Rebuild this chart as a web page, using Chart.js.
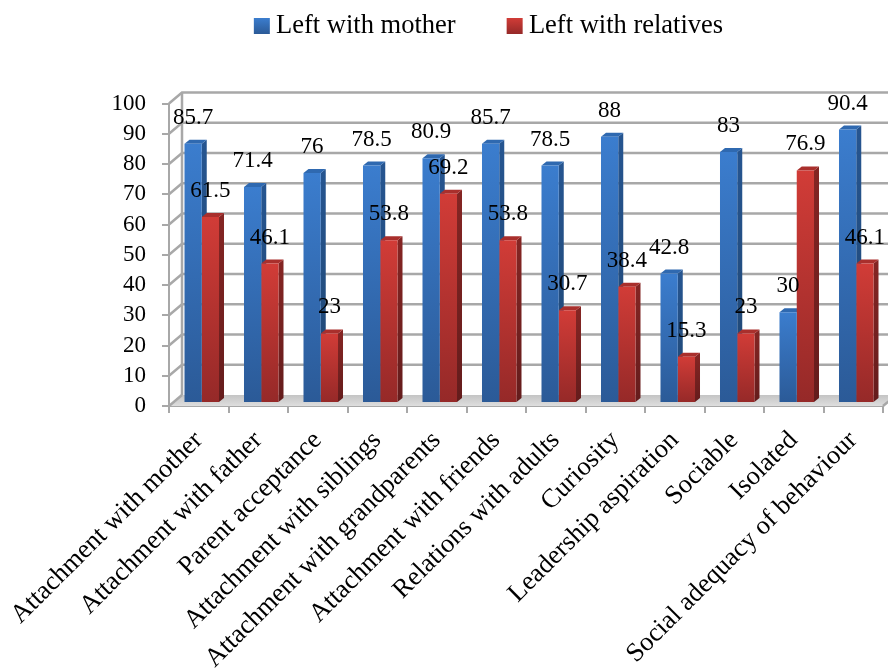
<!DOCTYPE html>
<html>
<head>
<meta charset="utf-8">
<style>
  html, body { margin: 0; padding: 0; background: #fff; }
  canvas { display: block; }
</style>
<script src="https://cdn.jsdelivr.net/npm/chart.js@4"></script>
</head>
<body>
<canvas id="chart" width="888" height="669"></canvas>
<script>
const categories = ['Attachment with mother', 'Attachment with father', 'Parent acceptance', 'Attachment with siblings',
  'Attachment with grandparents', 'Attachment with friends', 'Relations with adults', 'Curiosity',
  'Leadership aspiration', 'Sociable', 'Isolated', 'Social adequacy of behaviour'];
const leftWithMother = [85.7, 71.4, 76, 78.5, 80.9, 85.7, 78.5, 88, 42.8, 83, 30, 90.4];
const leftWithRelatives = [61.5, 46.1, 23, 53.8, 69.2, 53.8, 30.7, 38.4, 15.3, 23, 76.9, 46.1];

const FONT_FAMILY = '"Liberation Serif", serif';
const GRID_COLOR = '#a8a8a8';
const WALL_X = 13, WALL_Y = -11;   // back wall offset
const BAR_X = 3, BAR_Y = -3;       // bars stand a bit behind the front axis
const DEPTH_X = 5, DEPTH_Y = -4;   // bar depth
const LEGEND_SHIFT = 50;

const ctx = document.getElementById('chart').getContext('2d');

const barGradient = (top, bottom, yTop, yBottom) => {
  const g = ctx.createLinearGradient(0, yTop, 0, yBottom);
  g.addColorStop(0, top);
  g.addColorStop(1, bottom);
  return g;
};

const fillFor = (light, dark) => (context) => {
  const scale = context.chart.scales.y;
  if (!scale || !context.parsed) return light;
  return barGradient(light, dark, scale.getPixelForValue(context.parsed.y), scale.getPixelForValue(0));
};

const drawBarFaces = (chart, index) => {
  const c = chart.ctx;
  const ds = chart.data.datasets[index];
  chart.getDatasetMeta(index).data.forEach((bar) => {
    const right = bar.x + bar.width / 2;
    const left = bar.x - bar.width / 2;
    c.fillStyle = barGradient(ds.sideLight, ds.sideDark, bar.y, bar.base);
    c.beginPath();
    c.moveTo(right, bar.y);
    c.lineTo(right + DEPTH_X, bar.y + DEPTH_Y);
    c.lineTo(right + DEPTH_X, bar.base + DEPTH_Y);
    c.lineTo(right, bar.base);
    c.closePath();
    c.fill();
    c.fillStyle = ds.topColor;
    c.beginPath();
    c.moveTo(left, bar.y);
    c.lineTo(left + DEPTH_X, bar.y + DEPTH_Y);
    c.lineTo(right + DEPTH_X, bar.y + DEPTH_Y);
    c.lineTo(right, bar.y);
    c.closePath();
    c.fill();
  });
};

// back wall, left wall, floor, bar depth and value labels
const wallsPlugin = {
  id: 'walls',
  beforeDatasetsDraw(chart) {
    const { ctx: c, scales: { x, y } } = chart;
    const zero = y.getPixelForValue(0);
    c.save();
    const floor = c.createLinearGradient(0, zero + WALL_Y, 0, zero);
    floor.addColorStop(0, '#c4c4c4');
    floor.addColorStop(1, '#dedede');
    c.fillStyle = floor;
    c.beginPath();
    c.moveTo(x.left, zero);
    c.lineTo(x.left + WALL_X, zero + WALL_Y);
    c.lineTo(x.right + WALL_X, zero + WALL_Y);
    c.lineTo(x.right, zero);
    c.closePath();
    c.fill();
    c.strokeStyle = GRID_COLOR;
    c.lineWidth = 2.5;
    y.ticks.forEach((t) => {
      const py = y.getPixelForValue(t.value);
      c.beginPath();
      c.moveTo(x.left, py);
      c.lineTo(x.left + WALL_X, py + WALL_Y);
      if (t.value > 0) c.lineTo(x.right + WALL_X, py + WALL_Y);
      c.stroke();
    });
    c.beginPath();
    c.moveTo(x.left + WALL_X, y.top + WALL_Y);
    c.lineTo(x.left + WALL_X, zero + WALL_Y);
    c.moveTo(x.right, zero);
    c.lineTo(x.right + WALL_X, zero + WALL_Y);
    c.stroke();
    c.translate(BAR_X, BAR_Y);
    drawBarFaces(chart, 0);
    drawBarFaces(chart, 1);
    c.restore();
  },
  beforeDatasetDraw(chart) {
    chart.ctx.save();
    chart.ctx.translate(BAR_X, BAR_Y);
  },
  afterDatasetDraw(chart) {
    chart.ctx.restore();
  },
  afterDatasetsDraw(chart) {
    const c = chart.ctx;
    c.save();
    c.font = '23px ' + FONT_FAMILY;
    c.fillStyle = '#000';
    c.textAlign = 'center';
    c.textBaseline = 'middle';
    chart.data.datasets.forEach((ds, i) => {
      chart.getDatasetMeta(i).data.forEach((bar, j) => {
        c.fillText(String(ds.data[j]), bar.x + BAR_X, bar.y + BAR_Y - 26);
      });
    });
    c.restore();
  },
  afterDraw(chart) {
    // legend swatches sit tighter to the text than the library draws them
    const c = chart.ctx;
    c.save();
    chart.legend.legendHitBoxes.forEach((box, i) => {
      const ds = chart.data.datasets[i];
      c.fillStyle = barGradient(ds.swatch[0], ds.swatch[1], 18, 34);
      c.fillRect(box.left - 6, 18, 16, 16);
    });
    c.restore();
  },
  beforeLayout(chart) {
    chart.legend.afterFit = function () { this.height = 142; };
  },
  afterLayout(chart) {
    // legend sits off centre, close to the top edge
    const legend = chart.legend;
    legend.top = -44;
    legend.left += LEGEND_SHIFT;
    legend.right += LEGEND_SHIFT;
  }
};

new Chart(ctx, {
  type: 'bar',
  data: {
    labels: categories,
    datasets: [{
      label: 'Left with mother',
      data: leftWithMother,
      backgroundColor: fillFor('#3b7dce', '#2b5a97'),
      swatch: ['#3b7dce', '#2b5a97'],
      sideLight: '#265590',
      sideDark: '#1f4672',
      topColor: '#2f69b0',
      borderWidth: 0
    }, {
      label: 'Left with relatives',
      data: leftWithRelatives,
      backgroundColor: fillFor('#d13c37', '#952928'),
      swatch: ['#d13c37', '#952928'],
      sideLight: '#842523',
      sideDark: '#641c1c',
      topColor: '#a92f2c',
      borderWidth: 0
    }]
  },
  options: {
    responsive: false,
    animation: false,
    layout: { padding: { top: 10, right: 5, bottom: 0, left: 0 } },
    categoryPercentage: 0.58,
    barPercentage: 1,
    plugins: {
      tooltip: { enabled: false },
      legend: {
        position: 'top',
        labels: {
          color: '#000',
          boxWidth: 3,
          boxHeight: 3,
          padding: 57,
          font: { family: FONT_FAMILY, size: 26.5 },
          generateLabels: (chart) => chart.data.datasets.map((ds, i) => ({
            text: ds.label, fillStyle: 'transparent', strokeStyle: 'transparent', lineWidth: 0, datasetIndex: i
          }))
        }
      }
    },
    scales: {
      x: {
        afterFit: (s) => { s.height = 263; s.paddingLeft = 0; s.paddingRight = 0; },
        grid: { drawOnChartArea: false, color: GRID_COLOR, tickColor: GRID_COLOR, tickLength: 7, lineWidth: 2 },
        border: { color: GRID_COLOR, width: 2 },
        ticks: {
          autoSkip: false,
          minRotation: 45,
          maxRotation: 45,
          padding: 12,
          color: '#000',
          font: { family: FONT_FAMILY, size: 26.5 }
        }
      },
      y: {
        min: 0,
        max: 100,
        afterFit: (s) => { s.width = 169; },
        grid: { drawOnChartArea: false, color: GRID_COLOR, tickColor: GRID_COLOR, tickLength: 7, lineWidth: 2 },
        border: { color: GRID_COLOR, width: 2 },
        ticks: {
          stepSize: 10,
          autoSkip: false,
          padding: 16,
          color: '#000',
          font: { family: FONT_FAMILY, size: 23 }
        }
      }
    }
  },
  plugins: [wallsPlugin]
});
</script>
</body>
</html>
